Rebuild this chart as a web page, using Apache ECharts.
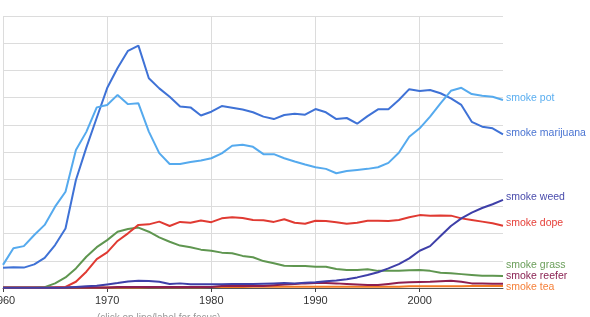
<!DOCTYPE html>
<html>
<head>
<meta charset="utf-8">
<script src="https://cdn.jsdelivr.net/npm/echarts@6/dist/echarts.min.js"></script>
<style>
html,body{margin:0;padding:0;background:#fff;}
#chart{width:590px;height:317px;}
</style>
</head>
<body>
<div id="chart"></div>
<script>
var years = ['1960','1961','1962','1963','1964','1965','1966','1967','1968','1969',
  '1970','1971','1972','1973','1974','1975','1976','1977','1978','1979',
  '1980','1981','1982','1983','1984','1985','1986','1987','1988','1989',
  '1990','1991','1992','1993','1994','1995','1996','1997','1998','1999',
  '2000','2001','2002','2003','2004','2005','2006','2007','2008'];

var smokePot = [0.85,1.46,1.54,1.95,2.32,2.99,3.54,5.07,5.74,6.64,
  6.73,7.10,6.76,6.79,5.75,4.96,4.56,4.56,4.63,4.69,
  4.77,4.95,5.23,5.27,5.19,4.92,4.92,4.77,4.65,4.54,
  4.44,4.38,4.22,4.30,4.34,4.38,4.44,4.60,4.97,5.56,
  5.87,6.30,6.79,7.25,7.36,7.13,7.07,7.03,6.91];

var smokeMarijuana = [0.74,0.76,0.75,0.87,1.11,1.58,2.19,3.97,5.16,6.26,
  7.35,8.09,8.72,8.91,7.71,7.34,7.03,6.67,6.64,6.34,
  6.48,6.69,6.63,6.56,6.46,6.30,6.21,6.36,6.41,6.37,
  6.58,6.46,6.21,6.25,6.04,6.32,6.57,6.57,6.91,7.31,
  7.24,7.28,7.16,6.97,6.73,6.11,5.93,5.87,5.65];

var smokeWeed = [0.01,0.01,0.01,0.01,0.01,0.01,0.02,0.04,0.06,0.08,
  0.13,0.18,0.24,0.27,0.26,0.23,0.15,0.17,0.14,0.14,
  0.14,0.14,0.15,0.15,0.15,0.16,0.17,0.18,0.17,0.19,
  0.21,0.25,0.28,0.32,0.39,0.48,0.58,0.72,0.88,1.09,
  1.37,1.54,1.91,2.28,2.56,2.77,2.94,3.08,3.24];

var smokeDope = [0.01,0.01,0.01,0.01,0.01,0.02,0.04,0.23,0.60,1.06,
  1.31,1.73,2.01,2.32,2.34,2.44,2.28,2.43,2.40,2.48,
  2.42,2.56,2.60,2.57,2.50,2.49,2.43,2.53,2.40,2.36,
  2.47,2.46,2.42,2.36,2.40,2.47,2.47,2.46,2.50,2.60,
  2.68,2.66,2.67,2.66,2.56,2.50,2.44,2.38,2.29];

var smokeGrass = [0.01,0.01,0.01,0.01,0.03,0.17,0.39,0.72,1.15,1.50,
  1.76,2.07,2.17,2.22,2.07,1.86,1.70,1.56,1.50,1.41,
  1.37,1.30,1.28,1.18,1.13,0.99,0.91,0.82,0.81,0.81,
  0.78,0.78,0.70,0.66,0.66,0.69,0.63,0.63,0.63,0.65,
  0.66,0.63,0.56,0.54,0.51,0.48,0.45,0.45,0.44];

var smokeReefer = [0.02,0.02,0.02,0.02,0.02,0.02,0.02,0.02,0.02,0.02,
  0.02,0.04,0.04,0.04,0.04,0.04,0.04,0.04,0.04,0.04,
  0.04,0.07,0.07,0.07,0.07,0.07,0.10,0.13,0.15,0.17,
  0.18,0.18,0.17,0.15,0.13,0.11,0.11,0.15,0.19,0.21,
  0.22,0.23,0.25,0.27,0.23,0.17,0.17,0.16,0.16];

var smokeTea = [0.02,0.02,0.02,0.02,0.02,0.02,0.02,0.02,0.02,0.02,
  0.02,0.02,0.02,0.02,0.03,0.03,0.03,0.03,0.03,0.03,
  0.04,0.04,0.04,0.04,0.05,0.05,0.05,0.05,0.05,0.05,
  0.05,0.05,0.05,0.05,0.05,0.05,0.05,0.05,0.05,0.06,
  0.06,0.06,0.06,0.06,0.06,0.07,0.07,0.07,0.07];

var seriesDefs = [
  {name:'smoke pot', data:smokePot, color:'#55aaee', labelColor:'#5aaef0', dy:-2},
  {name:'smoke marijuana', data:smokeMarijuana, color:'#3f72d6', labelColor:'#4a74d2', dy:-1},
  {name:'smoke weed', data:smokeWeed, color:'#3e3fa8', labelColor:'#4a4cac', dy:-3},
  {name:'smoke dope', data:smokeDope, color:'#e03a32', labelColor:'#e6403a', dy:-3},
  {name:'smoke grass', data:smokeGrass, color:'#5f9650', labelColor:'#6a9e5a', dy:-11},
  {name:'smoke reefer', data:smokeReefer, color:'#8e1f4f', labelColor:'#8a2253', dy:-8},
  {name:'smoke tea', data:smokeTea, color:'#f27a22', labelColor:'#f5803a', dy:1}
];

var FONT = 'Liberation Sans, Arial, Helvetica, sans-serif';
var chart = echarts.init(document.getElementById('chart'), null, {renderer:'canvas'});

var series = seriesDefs.map(function(s, i){
  return {
    name: s.name,
    type: 'line',
    data: s.data,
    symbol: 'none',
    z: 10 - i,
    lineStyle: {color: s.color, width: 2},
    itemStyle: {color: s.color},
    endLabel: {
      show: true,
      formatter: s.name,
      color: s.labelColor,
      fontSize: 10.5,
      fontFamily: FONT,
      distance: 3,
      offset: [0, s.dy]
    },
    emphasis: {disabled: true}
  };
});

var isDecade = function(idx, val){ return parseInt(val, 10) % 10 === 0; };

chart.setOption({
  animation: false,
  backgroundColor: '#ffffff',
  grid: {left: 3, right: 87, top: 16, bottom: 29, containLabel: false, outerBoundsMode: 'none'},
  xAxis: {
    type: 'category',
    data: years,
    boundaryGap: false,
    axisLine: {show: true, lineStyle: {color: '#555', width: 1}},
    axisTick: {show: true, interval: isDecade, length: 4, lineStyle: {color: '#444'}},
    axisLabel: {interval: isDecade, color: '#333', fontSize: 11, fontFamily: FONT, margin: 7, hideOverlap: false},
    splitLine: {show: true, interval: isDecade, lineStyle: {color: '#dcdcdc', width: 1}}
  },
  yAxis: {
    type: 'value',
    min: 0,
    max: 10,
    interval: 1,
    axisLine: {show: false},
    axisTick: {show: false},
    axisLabel: {show: false},
    splitLine: {show: true, lineStyle: {color: '#dcdcdc', width: 1}}
  },
  graphic: [{
    type: 'text',
    left: 97,
    top: 313,
    style: {text: '(click on line/label for focus)', fill: '#999', font: '10px ' + FONT}
  }],
  series: series
});
</script>
</body>
</html>
